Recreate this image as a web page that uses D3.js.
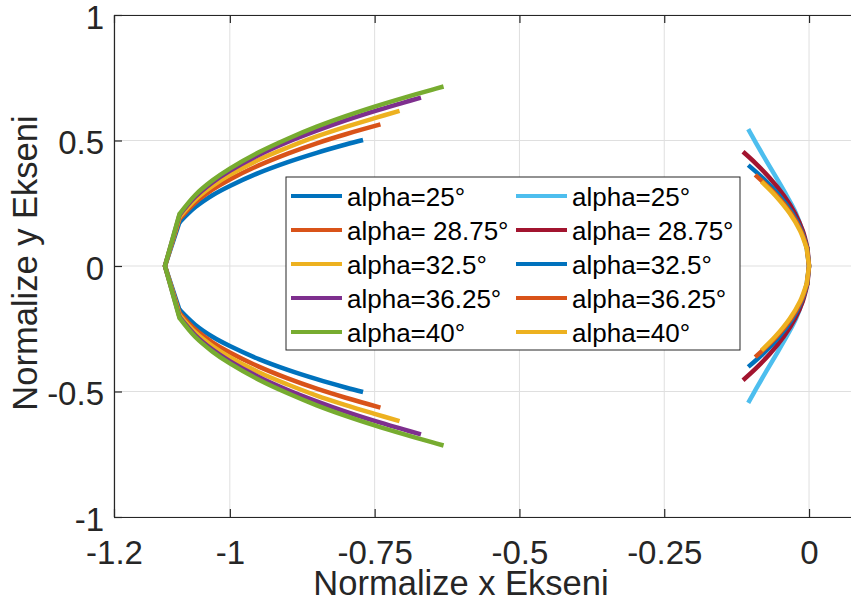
<!DOCTYPE html>
<html><head><meta charset="utf-8">
<script src="https://cdn.jsdelivr.net/npm/d3@7"></script>
<style>
body{margin:0;background:#fff}
svg{display:block}
text{font-family:"Liberation Sans",Arial,Helvetica,sans-serif}
</style>
</head><body>
<svg id="chart" width="851" height="605"></svg>
<script>
// ---- tick values and labels ----
const xTicks = [-1.2, -1, -0.75, -0.5, -0.25, 0];
const xTickLabels = ["-1.2", "-1", "-0.75", "-0.5", "-0.25", "0"];
const yTicks = [-1, -0.5, 0, 0.5, 1];
const yTickLabels = ["-1", "-0.5", "0", "0.5", "1"];
const xLabel = "Normalize x Ekseni";
const yLabel = "Normalize y Ekseni";

// ---- legend labels ----
const leftLabels = ["alpha=25°", "alpha= 28.75°", "alpha=32.5°", "alpha=36.25°", "alpha=40°"];
const rightLabels = ["alpha=25°", "alpha= 28.75°", "alpha=32.5°", "alpha=36.25°", "alpha=40°"];
const leftColors = ["#0072BD", "#D95319", "#EDB120", "#7E2F8E", "#77AC30"];
const rightColors = ["#4DBEEE", "#A2142F", "#0072BD", "#D95319", "#EDB120"];

// ---- left family (upper half; lower half is its mirror) ----
const leftX25 = [-1.112, -1.087, -1.06, -1.03, -1.0, -0.95, -0.90, -0.85, -0.80, -0.770];
const leftY25 = [0, 0.174, 0.234, 0.282, 0.319, 0.371, 0.414, 0.451, 0.484, 0.502];
const leftX2875 = [-1.112, -1.087, -1.06, -1.03, -1.0, -0.95, -0.90, -0.85, -0.80, -0.740];
const leftY2875 = [0, 0.187, 0.252, 0.304, 0.345, 0.401, 0.448, 0.489, 0.525, 0.564];
const leftX325 = [-1.112, -1.087, -1.06, -1.03, -1.0, -0.95, -0.90, -0.85, -0.80, -0.75, -0.707];
const leftY325 = [0, 0.195, 0.264, 0.319, 0.363, 0.423, 0.472, 0.516, 0.554, 0.589, 0.618];
const leftX3625 = [-1.112, -1.087, -1.06, -1.03, -1.0, -0.95, -0.90, -0.85, -0.80, -0.75, -0.70, -0.670];
const leftY3625 = [0, 0.203, 0.275, 0.333, 0.379, 0.442, 0.494, 0.539, 0.580, 0.617, 0.651, 0.671];
const leftX40 = [-1.112, -1.087, -1.06, -1.03, -1.0, -0.95, -0.90, -0.85, -0.80, -0.75, -0.70, -0.65, -0.631];
const leftY40 = [0, 0.207, 0.282, 0.341, 0.388, 0.453, 0.507, 0.555, 0.597, 0.635, 0.670, 0.703, 0.715];

// ---- right family (upper half; lower half is its mirror) ----
const rightX25 = [0, -0.004, -0.0115, -0.0225, -0.0385, -0.056, -0.074, -0.0915, -0.105];
const rightY25 = [0, 0.07, 0.14, 0.21, 0.28, 0.35, 0.42, 0.49, 0.545];
const rightX2875 = [0, -0.0027, -0.0108, -0.0243, -0.0432, -0.0675, -0.0926, -0.114];
const rightY2875 = [0, 0.07, 0.14, 0.21, 0.28, 0.35, 0.41, 0.455];
const rightX325 = [0, -0.0032, -0.0127, -0.0287, -0.051, -0.0796, -0.105];
const rightY325 = [0, 0.07, 0.14, 0.21, 0.28, 0.35, 0.402];
const rightX3625 = [0, -0.0035, -0.0138, -0.0311, -0.0553, -0.093];
const rightY3625 = [0, 0.07, 0.14, 0.21, 0.28, 0.363];
const rightX40 = [0, -0.0041, -0.0154, -0.0334, -0.0579, -0.082];
const rightY40 = [0, 0.07, 0.14, 0.21, 0.28, 0.336];

const leftSeries = [[leftX25, leftY25], [leftX2875, leftY2875], [leftX325, leftY325], [leftX3625, leftY3625], [leftX40, leftY40]];
const rightSeries = [[rightX25, rightY25], [rightX2875, rightY2875], [rightX325, rightY325], [rightX3625, rightY3625], [rightX40, rightY40]];

// ---- layout ----
const svg = d3.select("#chart");
const L = 114, T = 15, B = 517;
const x = d3.scaleLinear().domain([-1.2, 0.1]).range([L, L + 1.3 * 579.2]);
const y = d3.scaleLinear().domain([-1, 1]).range([B, T]);
const axisColor = "#262626";
const gridColor = "#dfdfdf";

// grid
const grid = svg.append("g");
grid.selectAll("line.gx").data(xTicks).join("line")
  .attr("x1", d => x(d)).attr("x2", d => x(d)).attr("y1", T).attr("y2", B)
  .attr("stroke", gridColor).attr("stroke-width", 1);
grid.selectAll("line.gy").data(yTicks).join("line")
  .attr("x1", L).attr("x2", x(0.1)).attr("y1", d => y(d)).attr("y2", d => y(d))
  .attr("stroke", gridColor).attr("stroke-width", 1);

// curves: sharp segment through the vertex, smooth beyond the first sample
const smooth = d3.line().x(d => x(d[0])).y(d => y(d[1])).curve(d3.curveCatmullRom.alpha(0.5));
const straight = d3.line().x(d => x(d[0])).y(d => y(d[1]));
function drawSeries(g, xs, ys, color) {
  const upper = xs.map((v, i) => [v, ys[i]]);
  const lower = xs.map((v, i) => [v, -ys[i]]);
  const style = p => p.attr("fill", "none").attr("stroke", color).attr("stroke-width", 4.5)
    .attr("stroke-linejoin", "round");
  g.append("path").attr("d", smooth(upper.slice(1))).call(style).attr("stroke-linecap", "butt");
  g.append("path").attr("d", smooth(lower.slice(1))).call(style).attr("stroke-linecap", "butt");
  g.append("path").attr("d", straight([lower[1], upper[0], upper[1]])).call(style)
    .attr("stroke-linecap", "round").attr("stroke-linejoin", "miter");
}
const curves = svg.append("g");
leftSeries.forEach((s, i) => drawSeries(curves.append("g"), s[0], s[1], leftColors[i]));
rightSeries.forEach((s, i) => drawSeries(curves.append("g"), s[0], s[1], rightColors[i]));

// axes
const tickFont = 33;
const gx = svg.append("g").attr("transform", `translate(0,${B})`)
  .call(d3.axisBottom(x).tickValues(xTicks).tickFormat((d, i) => xTickLabels[i])
    .tickSizeInner(-8).tickSizeOuter(0).tickPadding(23.5));
const gt = svg.append("g").attr("transform", `translate(0,${T})`)
  .call(d3.axisTop(x).tickValues(xTicks).tickFormat("").tickSizeInner(-8).tickSizeOuter(0));
const gy = svg.append("g").attr("transform", `translate(${L},0)`)
  .call(d3.axisLeft(y).tickValues(yTicks).tickFormat((d, i) => yTickLabels[i])
    .tickSizeInner(-8).tickSizeOuter(0).tickPadding(10));
[gx, gt, gy].forEach(g => {
  g.select(".domain").attr("stroke", axisColor).attr("stroke-width", 1.2);
  g.selectAll(".tick line").attr("stroke", axisColor).attr("stroke-width", 1.2);
  g.selectAll(".tick text").attr("fill", axisColor)
    .style("font-size", tickFont + "px")
    .style("font-family", '"Liberation Sans",Arial,Helvetica,sans-serif');
});
gy.selectAll(".tick text").attr("dy", "0.4em");

// axis labels
svg.append("text").attr("x", 461).attr("y", 595).attr("text-anchor", "middle")
  .attr("fill", axisColor).style("font-size", "34.5px").text(xLabel);
svg.append("text").attr("transform", "translate(37,263) rotate(-90)").attr("text-anchor", "middle")
  .attr("fill", axisColor).style("font-size", "34.5px").text(yLabel);

// legend
const lg = svg.append("g");
lg.append("rect").attr("x", 286).attr("y", 177).attr("width", 454).attr("height", 173)
  .attr("fill", "#fff").attr("stroke", axisColor).attr("stroke-width", 1);
const rowY = i => 196 + i * 34;
const cols = [
  {lx: 291, tx: 347, labels: leftLabels, colors: leftColors},
  {lx: 516, tx: 572, labels: rightLabels, colors: rightColors}
];
cols.forEach(c => {
  c.labels.forEach((lab, i) => {
    lg.append("line").attr("x1", c.lx).attr("x2", c.lx + 51)
      .attr("y1", rowY(i)).attr("y2", rowY(i))
      .attr("stroke", c.colors[i]).attr("stroke-width", 4);
    lg.append("text").attr("x", c.tx).attr("y", rowY(i) + 10.3)
      .attr("fill", "#000").style("font-size", "26px").text(lab);
  });
});
</script>
</body></html>
